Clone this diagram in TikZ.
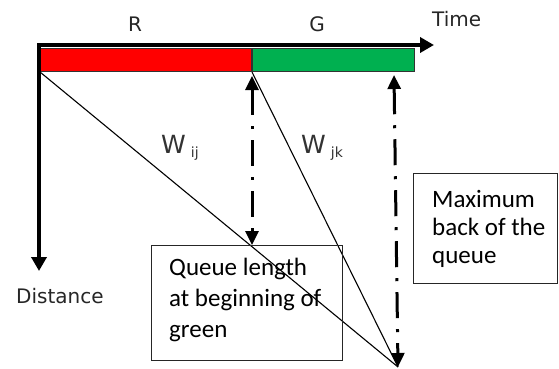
\documentclass[tikz,border=0pt]{standalone}
\usepackage{fontspec}
\setmainfont{Carlito}
\newfontfamily\axisfont{DejaVu Sans}
\usepackage{xcolor}
\usepackage{tikz}
\usetikzlibrary{arrows.meta, positioning}

\definecolor{sigred}{RGB}{255,0,0}
\definecolor{siggreen}{RGB}{0,176,80}

\begin{document}
\begin{tikzpicture}[x=1pt, y=-1pt,
		phase/.style={draw=black!80, line width=1pt, minimum height=23pt, inner sep=0pt, anchor=north west},
		axis/.style={line width=3.5pt, {Triangle[length=14pt, width=15pt]}-{Triangle[length=14pt, width=15pt]}},
		flow/.style={line width=3pt, dash pattern=on 26pt off 11pt on 3pt off 11pt, {Triangle[length=14pt, width=13pt]}-{Triangle[length=14pt, width=13pt]}},
		shock/.style={line width=1.1pt},
		note/.style={draw=black!85, line width=1.2pt, inner sep=0pt, anchor=north west},
		axislabel/.style={font=\axisfont\fontsize{20}{24}\selectfont, inner sep=0pt, text=black!85},
		wlabel/.style={font=\axisfont\fontsize{25}{30}\selectfont, inner sep=0pt, text=black!80},
		boxtext/.style={font=\fontsize{25}{31}\selectfont, align=left, inner sep=0pt, anchor=west}]
		\useasboundingbox (0,0) rectangle (559,369);
		% Signal phases, axes and queue lines:
		\node[phase, fill=sigred, minimum width=211pt] (redphase) at (40,48) {};
		\node[phase, fill=siggreen, minimum width=162pt] (greenphase) at (redphase.north east) {};
		\coordinate (O) at (39,45);
		\coordinate (T) at (434,45);
		\coordinate (D) at (39,271);
		\coordinate (qback) at (398,367);
		\coordinate (qtop) at (394,75);
		\draw[axis] (D) -- (O) -- (T);
		\node[axislabel, anchor=base] (rlabel) at (135,32) {R};
		\node[axislabel, anchor=base] (glabel) at (317,32) {G};
		\node[axislabel, anchor=base west] (tlabel) at (432,27) {Time};
		\node[axislabel, anchor=base west] (dlabel) at (16,303) {Distance};
		\draw[shock] (redphase.south west) -- (qback);
		\draw[shock] (redphase.south east) -- (qback);
		\node[wlabel, anchor=base west] (wij) at (161,153) {W\hspace{5pt}\raisebox{-4pt}{\fontsize{14}{14}\selectfont ij}};
		\node[wlabel, anchor=base west] (wjk) at (301,153) {W\hspace{5pt}\raisebox{-4pt}{\fontsize{14}{14}\selectfont jk}};
		% boxes
		\node[note, minimum width=191pt, minimum height=115pt] (qlen) at (151,245) {};
		\node[note, minimum width=144pt, minimum height=110pt] (qmax) at (413,173) {};
		\node[boxtext] (qlentext) at (169,300) {Queue length\\at beginning of\\green};
		\node[boxtext, font=\fontsize{25}{28}\selectfont] (qmaxtext) at (432,229) {Maximum\\back of the\\queue};
		\draw[flow] ([yshift=-4pt]redphase.south east) -- (redphase.south east |- qlen.north);
		\draw[flow] (qtop) -- (qback);
	\end{tikzpicture}
\end{document}
